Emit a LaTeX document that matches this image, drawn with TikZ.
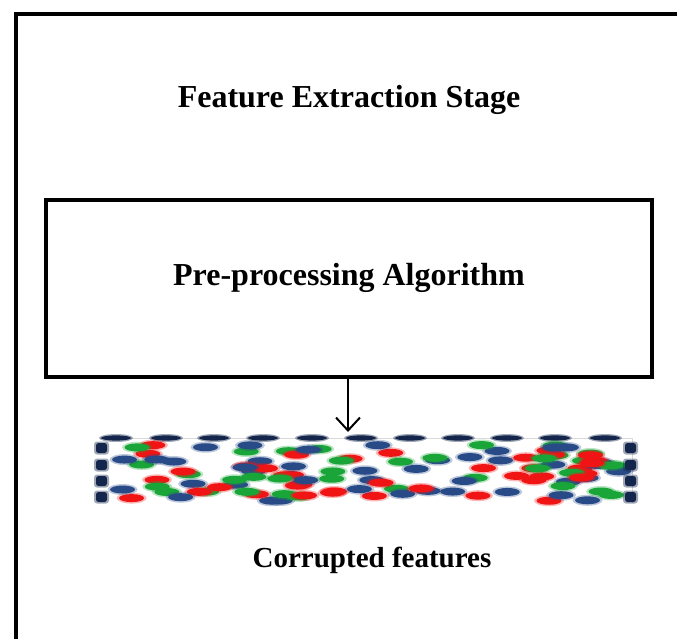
\documentclass[tikz,border=0pt]{standalone}
\usepackage{fontspec}
\setmainfont{Liberation Serif}
\usetikzlibrary{arrows.meta}
\definecolor{fr}{RGB}{240,20,20}
\definecolor{fg}{RGB}{25,165,55}
\definecolor{fb}{RGB}{40,75,135}
\definecolor{fd}{RGB}{20,38,75}
\tikzset{
  frame/.style={draw=black,line width=4pt},
  title/.style={font=\bfseries\fontsize{32}{36}\selectfont},
  caption/.style={font=\bfseries\fontsize{29}{33}\selectfont},
}
\newcommand{\featblob}[3]{%
  \fill[#3,opacity=0.3] (#1,#2) ellipse [x radius=15,y radius=5.5];
  \fill[#3] (#1,#2) ellipse [x radius=12.5,y radius=4];
}
\begin{document}
\begin{tikzpicture}[x=1pt,y=-1pt]
\useasboundingbox (0,0) rectangle (677,639);
% outer stage frame, running off the page
\draw[frame,line join=miter] (16,639) -- (16,14) -- (677,14);
\node[title] (stage) at (349,100) {Feature Extraction Stage};
% pre-processing block
\node[frame,minimum width=606pt,minimum height=176pt,inner sep=0pt] (pre) at (349,288.5) {};
\node[title] (prelabel) at (349,278) {Pre-processing Algorithm};
% feature matrix
\coordinate (feat) at (348,432);
\draw[line width=2pt,-{Straight Barb[length=13pt,width=24pt,line width=2pt]}] (pre.south -| feat) -- (feat);
\draw[gray!30,line width=1pt] (100,438) -- (632,438) -- (632,503);
\foreach \cx in {116,166,214,263,312,361,410,458,507,555,605}
  \fill[fd,opacity=0.4] (\cx,438) ellipse [x radius=17,y radius=4];
\foreach \cx in {116,166,214,263,312,361,410,458,507,555,605}
  \fill[fd] (\cx,438) ellipse [x radius=15,y radius=2.6];
\pgfmathsetseed{2718}
\foreach \i in {1,...,115}{
  \pgfmathsetmacro\ex{120+rnd*500}
  \pgfmathsetmacro\ey{445+rnd*57}
  \pgfmathrandominteger{\ec}{1}{3}
  \ifcase\ec\or\def\cc{fr}\or\def\cc{fg}\or\def\cc{fb}\fi
  \featblob{\ex}{\ey}{\cc}
}
\foreach \cy in {448,465,481,497}{
  \fill[fd,opacity=0.4,rounded corners=3pt] (94,\cy-6.5) rectangle (109,\cy+6.5);
  \fill[fd,rounded corners=2.5pt] (96,\cy-5) rectangle (107,\cy+5);
  \fill[fd,opacity=0.4,rounded corners=3pt] (623,\cy-6.5) rectangle (638,\cy+6.5);
  \fill[fd,rounded corners=2.5pt] (625,\cy-5) rectangle (636,\cy+5);
}
\node[caption] (corrupt) at (372,560) {Corrupted features};
\end{tikzpicture}
\end{document}
